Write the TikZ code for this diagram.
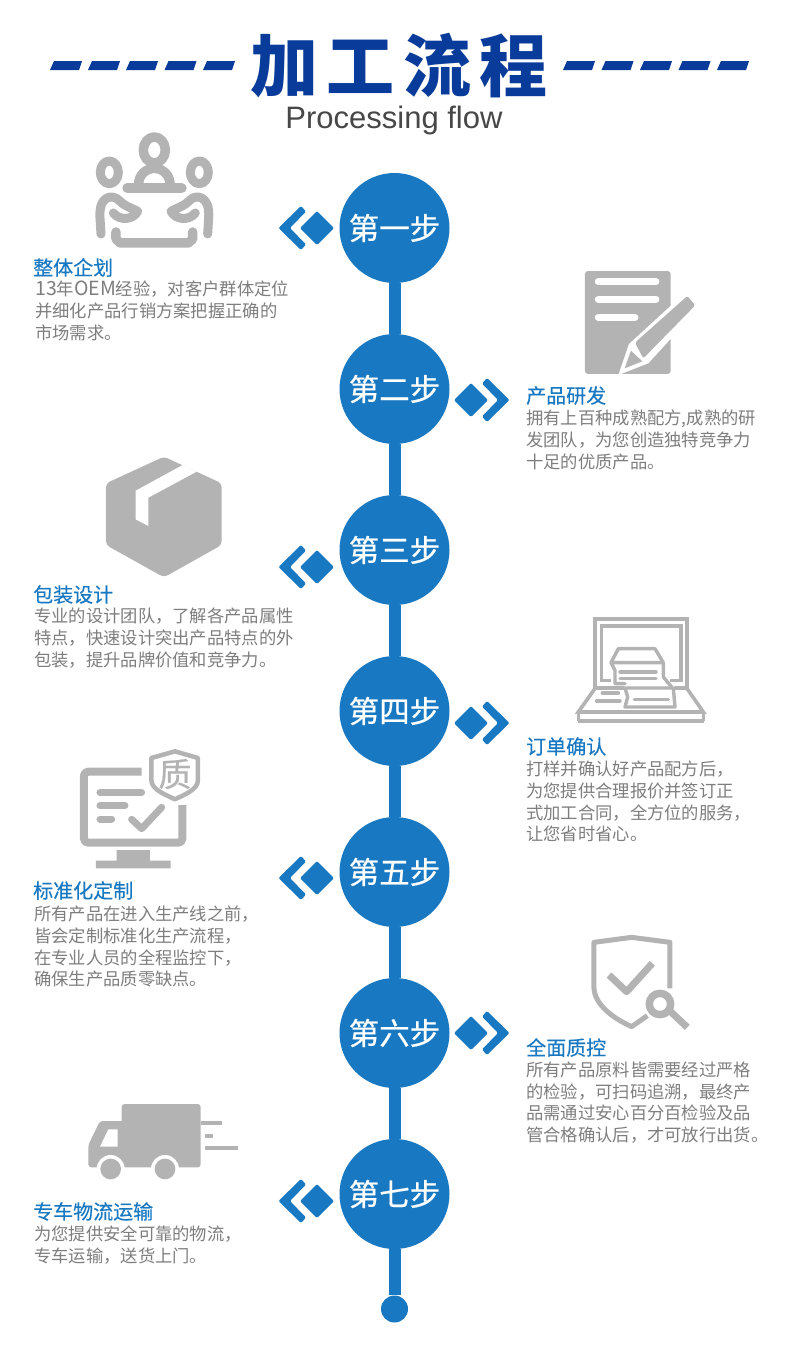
\documentclass[tikz,border=0pt]{standalone}
\usepackage{fontspec}
\setmainfont{Liberation Sans}
\newfontfamily\cjk{Noto Sans CJK SC}
\newfontfamily\cjkhead[FakeBold=0.25]{Noto Sans CJK SC}
\newfontfamily\cjkstep[FakeBold=0.6]{Noto Sans CJK SC}
\newfontfamily\cjktitle[LetterSpace=12]{Noto Sans CJK SC}
\newcommand{\widelatin}[1]{{\fontsize{19.5}{21.6}\selectfont #1}}
\definecolor{stepblue}{HTML}{1878C2}
\definecolor{titleblue}{HTML}{083B9A}
\definecolor{icongray}{HTML}{B3B3B3}
\definecolor{bodygray}{HTML}{7E7E7E}
\tikzset{
  stepnode/.style={circle,fill=stepblue,minimum size=110pt,inner sep=0pt,text=white,font=\cjkstep\fontsize{30.5}{33}\selectfont},
  spine/.style={draw=stepblue,line width=12pt},
  heading/.style={anchor=north west,inner sep=0pt,text=stepblue,font=\cjkhead\fontsize{20}{24}\selectfont},
  body/.style={anchor=north west,inner sep=0pt,align=left,text=bodygray,font=\cjk\fontsize{17.3}{21.6}\selectfont},
  mk/.style={fill=stepblue,rounded corners=1.2pt},
  dashbar/.style={fill=titleblue},
  iconfill/.style={fill=icongray},
  ink/.style={draw=icongray,line width=#1,line cap=round,line join=round},
  ink/.default=3pt,
  zoomcrop/.style={shift={#1},x=0.3333pt,y=-0.3333pt},
}
\newcommand{\flowmark}[3]{%
  \begin{scope}[shift={(#1,#2)},xscale=#3]
    \fill[mk] (-38.5,0) -- (-16,-22) -- (-11,-16.5) -- (-27,0) -- (-11,16.5) -- (-16,22) -- cycle;
    \fill[mk] (-17,0) -- (0,-17) -- (17,0) -- (0,17) -- cycle;
  \end{scope}}
\newcommand{\titledash}[1]{\fill[dashbar] (#1,70) -- (#1+4,61) -- (#1+32,61) -- (#1+29,70) -- cycle;}
\begin{document}
\begin{tikzpicture}[x=1pt,y=-1pt]
\useasboundingbox (0,0) rectangle (790,1361);
\fill[white] (0,0) rectangle (790,1361);

% header
\foreach \a in {50,88,126,164.5,203,563,601.5,640,678.5,717}{\titledash{\a}}
\node[anchor=center,inner sep=0pt,text=titleblue] (title) at (399,66)
  {\cjktitle\bfseries\fontsize{68}{72}\selectfont 加工流程};
\node[anchor=base,inner sep=0pt,text=black!72] (subtitle) at (394,128)
  {\fontsize{31}{34}\selectfont Processing flow};

% timeline
\node[circle,fill=stepblue,minimum size=27pt,inner sep=0pt] (end) at (394.5,1309) {};
\node[stepnode] (s1) at (394.5,228) {第一步};
\node[stepnode] (s2) at (394.5,389) {第二步};
\node[stepnode] (s3) at (394.5,550) {第三步};
\node[stepnode] (s4) at (394.5,711) {第四步};
\node[stepnode] (s5) at (394.5,872) {第五步};
\node[stepnode] (s6) at (394.5,1033) {第六步};
\node[stepnode] (s7) at (394.5,1194) {第七步};
\draw[spine] (s1) -- (s2);
\draw[spine] (s2) -- (s3);
\draw[spine] (s3) -- (s4);
\draw[spine] (s4) -- (s5);
\draw[spine] (s5) -- (s6);
\draw[spine] (s6) -- (s7);
\draw[spine] (s7) -- (end);

% markers
\flowmark{317}{228}{1}
\flowmark{471}{400}{-1}
\flowmark{317}{567}{1}
\flowmark{471}{723}{-1}
\flowmark{317}{878}{1}
\flowmark{471}{1033}{-1}
\flowmark{317}{1201}{1}

% texts
\node[heading] (h1) at (33,258) {整体企划};
\node[body] (b1) at (35,281) {\widelatin{13}年\widelatin{OEM}经验，对客户群体定位\\并细化产品行销方案把握正确的\\市场需求。};
\node[heading] (h2) at (526,386) {产品研发};
\node[body] (b2) at (526,410) {拥有上百种成熟配方,成熟的研\\发团队，为您创造独特竞争力\\十足的优质产品。};
\node[heading] (h3) at (33,585) {包装设计};
\node[body] (b3) at (34,608) {专业的设计团队，了解各产品属性\\特点，快速设计突出产品特点的外\\包装，提升品牌价值和竞争力。};
\node[heading] (h4) at (526,737) {订单确认};
\node[body] (b4) at (526,761) {打样并确认好产品配方后，\\为您提供合理报价并签订正\\式加工合同，全方位的服务，\\让您省时省心。};
\node[heading] (h5) at (33,881) {标准化定制};
\node[body] (b5) at (34,906) {所有产品在进入生产线之前，\\皆会定制标准化生产流程，\\在专业人员的全程监控下，\\确保生产品质零缺点。};
\node[heading] (h6) at (526,1038) {全面质控};
\node[body] (b6) at (526,1062) {所有产品原料皆需要经过严格\\的检验，可扫码追溯，最终产\\品需通过安心百分百检验及品\\管合格确认后，才可放行出货。};
\node[heading] (h7) at (33,1202) {专车物流运输};
\node[body] (b7) at (34,1226) {为您提供安全可靠的物流，\\专车运输，送货上门。};

% icon 1: meeting
\begin{scope}[zoomcrop={(90,128)}]
  \draw[ink=9.5pt] (146,168) arc [start angle=180,end angle=360,radius=47];
  \draw[ink=9.5pt] (193,66) ellipse [x radius=33,y radius=39];
  \draw[ink=10pt] (112,180) -- (275,180);
  \draw[ink=9pt] (58,133) ellipse [x radius=27,y radius=34];
  \draw[ink=9pt] (328,133) ellipse [x radius=27,y radius=34];
  \draw[ink=9pt,line join=round] (70,255) .. controls (90,280) and (130,275) .. (143,250) .. controls (120,238) and (100,232) .. (88,218) .. controls (70,198) and (25,200) .. (30,270) -- (33,318);
  \draw[ink=9pt,line join=round] (316,255) .. controls (296,280) and (256,275) .. (243,250) .. controls (266,238) and (286,232) .. (298,218) .. controls (316,198) and (361,200) .. (356,270) -- (353,318);
  \draw[ink=9.5pt] (78,312) -- (78,333) -- (90,345) -- (295,345) -- (308,333) -- (308,312);
\end{scope}

% icon 2: document and pen
\begin{scope}[zoomcrop={(450,260)}]
  \fill[iconfill,rounded corners=3pt] (405,33) rectangle (662,342);
  \draw[white,line width=7pt,line cap=round] (445,65) -- (618,65);
  \draw[white,line width=7pt,line cap=round] (445,118) -- (618,118);
  \draw[white,line width=7pt,line cap=round] (445,172) -- (555,172);
  \fill[white] (705,98) -- (750,140) -- (595,310) -- (505,345) -- (537,252) -- cycle;
  \fill[iconfill,rounded corners=2pt] (555,248) -- (712,108) -- (736,136) -- (580,295) -- cycle;
  \fill[iconfill] (543,272) -- (524,325) -- (577,304) -- cycle;
\end{scope}

% icon 3: box
\begin{scope}[zoomcrop={(20,450)}]
  \fill[iconfill,rounded corners=4pt] (432,20) -- (605,100) -- (605,285) -- (432,382) -- (258,285) -- (258,100) -- cycle;
  \fill[white] (488,45) -- (530,65) -- (385,143) -- (385,228) -- (347,208) -- (347,122) -- cycle;
\end{scope}

% icon 4: laptop with printer
\begin{scope}[zoomcrop={(575,612)}]
  \draw[ink=4pt,line cap=butt,line join=miter] (61,228) -- (61,21) -- (335,21) -- (335,228);
  \draw[ink=3.4pt,line cap=butt,line join=miter] (108,205) -- (80,205) -- (80,42) -- (318,42) -- (318,205) -- (285,205);
  \draw[ink=3.6pt,line cap=butt,line join=miter] (148,228) -- (61,228) -- (10,300) -- (385,300) -- (335,228) -- (298,228);
  \draw[ink=4pt,line cap=butt] (8,326) -- (387,326);
  \draw[ink=3.4pt,line cap=butt] (10,298) -- (10,328);
  \draw[ink=3.4pt,line cap=butt] (385,298) -- (385,328);
  \draw[ink=3.4pt] (130,110) -- (240,110) -- (265,152) -- (108,152) -- cycle;
  \draw[ink=3.4pt] (108,152) -- (120,175) -- (120,215) -- (150,215);
  \draw[ink=3.4pt] (265,152) -- (265,195) -- (290,225);
  \draw[ink=3.4pt] (135,180) -- (243,180);
  \draw[ink=3.4pt] (135,200) -- (243,200);
  \draw[ink=3.4pt] (150,228) -- (295,228) -- (300,285) -- (150,285) -- (158,255) -- cycle;
  \draw[ink=3.4pt] (178,262) -- (280,262);
  \draw[ink=3.4pt] (82,243) -- (130,243);
  \draw[ink=3.4pt] (65,267) -- (135,267);
\end{scope}

% icon 5: monitor with shield
\begin{scope}[zoomcrop={(20,750)}]
  \draw[ink=8pt,line cap=butt,rounded corners=4pt] (365,65) -- (192,65) -- (192,278) -- (487,278) -- (487,165);
  \fill[iconfill] (290,300) -- (390,300) -- (390,332) -- (452,332) -- (452,355) -- (228,355) -- (228,332) -- (290,332) -- cycle;
  \draw[ink=7pt] (240,128) -- (365,128);
  \draw[ink=7pt] (240,167) -- (315,167);
  \draw[ink=7pt] (240,207) -- (275,207);
  \draw[ink=7pt] (335,208) -- (365,236) -- (425,172);
  \draw[ink=4.5pt,line join=round] (465,4) -- (394,24) -- (394,90) .. controls (394,120) and (440,135) .. (465,148) .. controls (490,135) and (534,120) .. (534,90) -- (534,24) -- cycle;
  \node[inner sep=0pt,text=icongray,font=\cjkstep\fontsize{33}{36}\selectfont] (zhi) at (465,72) {质};
\end{scope}

% icon 6: shield with magnifier
\begin{scope}[zoomcrop={(450,925)}]
  \draw[ink=5pt,line cap=butt,line join=round] (660,190) -- (660,52) -- (545,37) -- (432,52) -- (432,190) .. controls (435,240) and (490,280) .. (545,305) -- (592,272);
  \draw[ink=7pt,line cap=butt] (477,150) -- (530,200) -- (607,115);
  \draw[ink=7.5pt] (630,237) circle [radius=32];
  \draw[ink=7pt,line cap=butt] (662,260) -- (712,307);
\end{scope}

% icon 7: truck
\begin{scope}[zoomcrop={(20,1090)}]
  \fill[iconfill,rounded corners=3pt] (305,42) rectangle (542,232);
  \fill[iconfill,rounded corners=3pt] (320,93) -- (240,93) -- (205,165) -- (205,232) -- (320,232) -- cycle;
  \fill[white] (265,118) -- (293,118) -- (293,170) -- (240,170) -- cycle;
  \fill[white] (272,237) circle [radius=42];
  \fill[white] (435,237) circle [radius=42];
  \fill[iconfill] (272,237) circle [radius=31];
  \fill[iconfill] (435,237) circle [radius=31];
  \fill[iconfill] (542,93) rectangle (605,105);
  \fill[iconfill] (555,132) rectangle (580,143);
  \fill[iconfill] (555,168) rectangle (655,180);
\end{scope}
\end{tikzpicture}
\end{document}
